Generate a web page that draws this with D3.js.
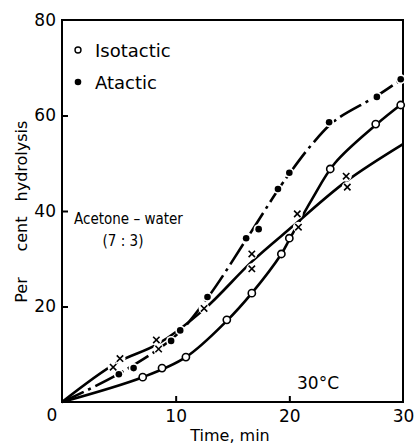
<!DOCTYPE html>
<html><head><meta charset="utf-8">
<script src="https://cdn.jsdelivr.net/npm/d3@7"></script>
<style>body{margin:0;background:#fff}svg{display:block}text{font-family:"DejaVu Sans",sans-serif;fill:#000}</style>
</head><body><svg id="c" width="415" height="448"></svg>
<script>
// ---- data ----
const isotacticPts = [[7.1,5.2],[8.8,7.1],[10.9,9.4],[14.5,17.2],[16.7,22.8],[19.3,31.0],[20.0,34.3],[23.6,48.8],[27.6,58.2],[29.8,62.2]];
const atacticPts = [[5.0,5.8],[6.3,7.1],[9.6,12.8],[10.4,15.0],[12.8,22.0],[16.2,34.3],[17.3,36.2],[19.0,44.6],[20.0,48.0],[23.5,58.6],[27.7,63.9],[29.8,67.6]];
const crossPts = [[4.5,7.3],[5.1,9.1],[8.3,13.0],[8.5,11.1],[12.5,19.6],[16.7,27.9],[16.7,31.0],[20.8,36.6],[20.7,39.4],[25.1,45.0],[25.0,47.3]];
// smooth curves drawn through the data
const isotacticCurve = [[0,0],[7.1,5.2],[10.9,9.4],[14.5,17.0],[16.7,22.8],[19.3,31.0],[20.0,34.0],[22.0,42.5],[24.0,50.0],[27.6,58.0],[30,62.6]];
const atacticCurve = [[0,0],[5.0,5.9],[10.0,13.9],[12.8,21.8],[16.2,34.0],[19.0,44.4],[20.0,47.8],[22.0,54.0],[24.0,58.9],[27.7,64.1],[30,67.8]];
const crossCurve = [[0,0],[4.8,8.2],[8.4,12.1],[12.5,19.4],[16.7,29.4],[20.3,36.8],[25.0,46.2],[30,54.0]];
const xTicks = [10,20,30];
const yTicks = [20,40,60,80];
const yTitleParts = ["Per","cent","hydrolysis"];

const svg = d3.select("#c");
const x = d3.scaleLinear().domain([0,30]).range([62,403]);
const y = d3.scaleLinear().domain([0,80]).range([402,20]);

// frame
svg.append("rect").attr("x",x(0)).attr("y",y(80)).attr("width",x(30)-x(0)).attr("height",y(0)-y(80))
  .attr("fill","none").attr("stroke","#000").attr("stroke-width",2);

// axes
const gy = svg.append("g").attr("transform",`translate(${x(0)},0)`)
  .call(d3.axisLeft(y).tickValues(yTicks).tickSizeInner(-6).tickSizeOuter(0).tickPadding(6).tickFormat(d3.format("d")));
const gx = svg.append("g").attr("transform",`translate(0,${y(0)})`)
  .call(d3.axisBottom(x).tickValues(xTicks).tickSizeInner(-6).tickSizeOuter(0).tickPadding(8).tickFormat(d3.format("d")));
[gy,gx].forEach(g=>{
  g.select(".domain").remove();
  g.selectAll(".tick line").attr("stroke","#000").attr("stroke-width",2);
  g.selectAll(".tick text").style("font-size","17px").style("font-family","DejaVu Sans, sans-serif");
});
gx.selectAll(".tick line").filter(d=>d===30).remove();
gy.selectAll(".tick line").filter(d=>d===80).remove();
svg.append("text").attr("x",52).attr("y",421).attr("text-anchor","middle").style("font-size","17px").text("0");

// titles
svg.append("text").attr("x",230).attr("y",441).attr("text-anchor","middle").style("font-size","16px").text("Time, min");
const yCenters = [290,234,161];
yTitleParts.forEach((t,i)=>{
  svg.append("text").attr("transform",`translate(27,${yCenters[i]}) rotate(-90)`).attr("text-anchor","middle")
    .style("font-size","16px").text(t);
});

// lines
const line = d3.line().x(d=>x(d[0])).y(d=>y(d[1])).curve(d3.curveCatmullRom.alpha(0.5));
const plot = svg.append("g");
plot.append("path").attr("d",line(isotacticCurve)).attr("fill","none").attr("stroke","#000").attr("stroke-width",2.6);
plot.append("path").attr("d",line(crossCurve)).attr("fill","none").attr("stroke","#000").attr("stroke-width",2.6);
plot.append("path").attr("d",line(atacticCurve)).attr("fill","none").attr("stroke","#000").attr("stroke-width",2.6)
  .attr("stroke-dasharray","24,5,3,5");

// gaps around markers
plot.selectAll(".haloX").data(crossPts).join("circle").attr("cx",d=>x(d[0])).attr("cy",d=>y(d[1])).attr("r",5.5).attr("fill","#fff");
plot.selectAll(".haloA").data(atacticPts).join("circle").attr("cx",d=>x(d[0])).attr("cy",d=>y(d[1])).attr("r",5).attr("fill","#fff");

// markers
plot.selectAll(".iso").data(isotacticPts).join("circle").attr("cx",d=>x(d[0])).attr("cy",d=>y(d[1])).attr("r",3.6)
  .attr("fill","#fff").attr("stroke","#000").attr("stroke-width",1.6);
plot.selectAll(".ata").data(atacticPts).join("circle").attr("cx",d=>x(d[0])).attr("cy",d=>y(d[1])).attr("r",3.3).attr("fill","#000");
plot.selectAll(".crs").data(crossPts).join("path")
  .attr("d",d=>{const cx=x(d[0]),cy=y(d[1]),s=3.2;return `M${cx-s},${cy-s}L${cx+s},${cy+s}M${cx-s},${cy+s}L${cx+s},${cy-s}`;})
  .attr("stroke","#000").attr("stroke-width",1.6);

// legend
svg.append("circle").attr("cx",78).attr("cy",50).attr("r",3).attr("fill","#fff").attr("stroke","#000").attr("stroke-width",1.4);
svg.append("text").attr("x",95).attr("y",57).style("font-size","18px").text("Isotactic");
svg.append("circle").attr("cx",78).attr("cy",82).attr("r",3.3).attr("fill","#000");
svg.append("text").attr("x",95).attr("y",89).style("font-size","18px").text("Atactic");

// annotations
svg.append("text").attr("x",74).attr("y",224).style("font-size","15px").style("font-family","DejaVu Sans Condensed, DejaVu Sans, sans-serif").text("Acetone – water");
svg.append("text").attr("x",123).attr("y",246).attr("text-anchor","middle").style("font-size","15px").style("font-family","DejaVu Sans Condensed, DejaVu Sans, sans-serif").text("(7 : 3)");
svg.append("text").attr("x",297).attr("y",389).style("font-size","17px").text("30°C");
</script></body></html>
